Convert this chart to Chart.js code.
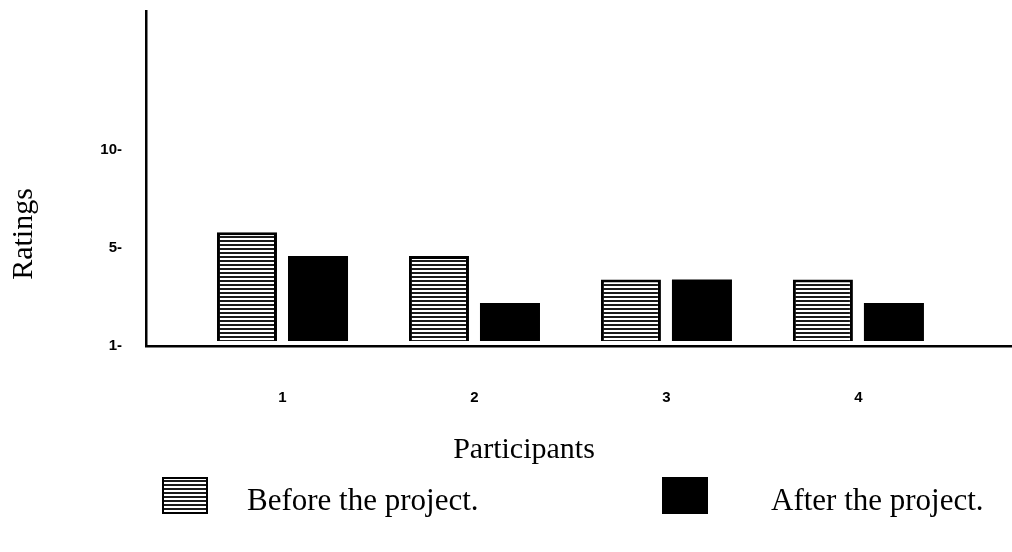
<!DOCTYPE html>
<html>
<head>
<meta charset="utf-8">
<script src="https://cdn.jsdelivr.net/npm/chart.js@4.4.1/dist/chart.umd.min.js"></script>
<style>
  html, body { margin: 0; padding: 0; background: #fff; }
  #wrap { width: 1012px; height: 552px; }
</style>
</head>
<body>
<div id="wrap"><canvas id="myChart" width="1012" height="552"></canvas></div>
<script>
// chart values
const participants = [1, 2, 3, 4];
const beforeRatings = [5.8, 4.6, 3.4, 3.4];
const afterRatings = [4.6, 2.2, 3.4, 2.2];
const yTickValues = [0, 5, 10];
const yTickLabels = ['1-', '5-', '10-'];
const seriesLabels = ['Before the project.', 'After the project.'];

const ctx = document.getElementById('myChart').getContext('2d');

// horizontal line fill used for the "before" bars
function stripePattern() {
    const tile = document.createElement('canvas');
    tile.width = 8;
    tile.height = 4;
    const g = tile.getContext('2d');
    g.fillStyle = '#fff';
    g.fillRect(0, 0, 8, 4);
    g.fillStyle = '#1a1a1a';
    g.fillRect(0, 0, 8, 2);
    return ctx.createPattern(tile, 'repeat');
}

const serif = 'Liberation Serif, Times New Roman, serif';
const sans = 'Liberation Sans, Arial, sans-serif';

// axis titles and legend drawn by hand, like the scanned figure
const extras = {
    id: 'extras',
    afterDraw(chart) {
        const c = chart.ctx;
        c.save();
        c.fillStyle = '#000';
        c.font = '30px ' + serif;
        c.textAlign = 'center';
        c.textBaseline = 'alphabetic';
        c.fillText('Participants', 524, 458);

        c.save();
        c.translate(32, 234);
        c.rotate(-Math.PI / 2);
        c.fillText('Ratings', 0, 0);
        c.restore();

        const swatchX = [163, 663];
        const textX = [247, 771];
        c.textAlign = 'left';
        c.font = '31px ' + serif;
        chart.data.datasets.forEach((ds, i) => {
            c.fillStyle = ds.backgroundColor;
            c.fillRect(swatchX[i], 478, 44, 35);
            c.strokeStyle = '#000';
            c.lineWidth = 2;
            c.strokeRect(swatchX[i], 478, 44, 35);
            c.fillStyle = '#000';
            c.fillText(ds.label, textX[i], 510);
        });
        c.restore();
    }
};

new Chart(ctx, {
    type: 'bar',
    data: {
        labels: participants,
        datasets: [
            {
                label: seriesLabels[0],
                data: beforeRatings,
                backgroundColor: stripePattern(),
                borderColor: '#000',
                borderWidth: 3,
                base: 0.25
            },
            {
                label: seriesLabels[1],
                data: afterRatings,
                backgroundColor: '#000',
                borderColor: '#000',
                borderWidth: 0,
                base: 0.25
            }
        ]
    },
    options: {
        responsive: false,
        animation: false,
        categoryPercentage: 0.74,
        barPercentage: 0.845,
        layout: { padding: { top: 11, right: 0, left: 0, bottom: 0 } },
        plugins: {
            legend: { display: false },
            tooltip: { enabled: false }
        },
        scales: {
            x: {
                type: 'linear',
                min: 0.289,
                max: 4.8,
                offset: false,
                afterFit: s => {
                    s.height = 206;
                    s.paddingLeft = 0;
                    s.paddingRight = 0;
                },
                afterBuildTicks: s => { s.ticks = participants.map(v => ({ value: v })); },
                grid: { display: false, drawTicks: false },
                border: { color: '#000', width: 2.5 },
                ticks: {
                    padding: 43,
                    color: '#000',
                    maxRotation: 0,
                    font: { family: sans, size: 15, weight: 'bold' }
                }
            },
            y: {
                min: 0,
                max: 17.1,
                afterFit: s => {
                    s.width = 146;
                    s.paddingTop = 0;
                    s.paddingBottom = 0;
                },
                afterBuildTicks: s => { s.ticks = yTickValues.map(v => ({ value: v })); },
                grid: { display: false, drawTicks: false },
                border: { color: '#000', width: 2.5 },
                ticks: {
                    padding: 24,
                    color: '#000',
                    font: { family: sans, size: 15, weight: 'bold' },
                    callback: (v, i) => yTickLabels[i]
                }
            }
        }
    },
    plugins: [extras]
});
</script>
</body>
</html>
